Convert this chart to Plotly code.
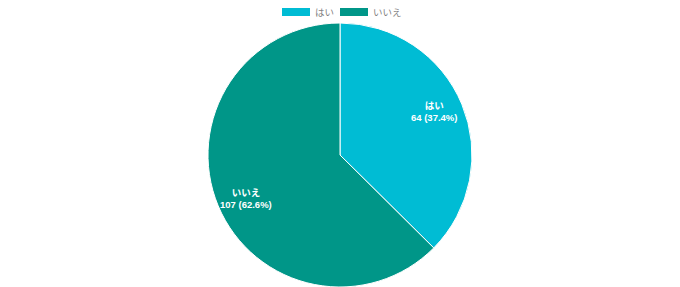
import math
import plotly.graph_objects as go

labels = ["はい", "いいえ"]
values = [64, 107]
colors = ["#00BCD4", "#009688"]

W, H = 680, 287
MT = 23
R_PX = 132          # pie radius in pixels (plot area is 264 tall)
LABEL_R = 103.5     # label distance from centre, pixels
LABEL_ROT = -2.4    # small angular offset of labels, degrees

fig = go.Figure()
fig.add_trace(go.Pie(
    labels=labels,
    values=values,
    sort=False,
    direction="clockwise",
    rotation=0,
    marker=dict(colors=colors, line=dict(color="#ffffff", width=1)),
    textinfo="none",
    hoverinfo="label+value+percent",
    showlegend=False,
))

shapes = []
annotations = []

# Slice labels placed along each slice's mid-angle
total = sum(values)
cum = 0
for lab, v in zip(labels, values):
    mid = (cum + v / 2) / total * 2 * math.pi + math.radians(LABEL_ROT)
    cum += v
    pct = v / total * 100
    annotations.append(dict(
        x=0.5, y=0.5, xref="paper", yref="paper",
        xshift=LABEL_R * math.sin(mid),
        yshift=LABEL_R * math.cos(mid),
        text=f"<b>{lab}<br>{v} ({pct:.1f}%)</b>",
        showarrow=False, xanchor="center", yanchor="middle", align="center",
        font=dict(size=9.5, color="#ffffff",
                  family="Liberation Sans, Noto Sans CJK JP, sans-serif"),
    ))

# Legend drawn as boxes + text across the top
box_x = [282, 340]
text_x = [313, 371]
ph = H - MT
for i, lab in enumerate(labels):
    shapes.append(dict(
        type="rect", xref="paper", yref="paper",
        x0=box_x[i] / W, x1=(box_x[i] + 28) / W,
        y0=(H - 16) / ph, y1=(H - 8) / ph,
        fillcolor=colors[i], line=dict(width=0),
    ))
    annotations.append(dict(
        x=text_x[i] / W, y=(H - 12) / ph, xref="paper", yref="paper",
        text=lab, showarrow=False, xanchor="left", yanchor="middle",
        font=dict(size=9.5, color="#808080", family="Noto Sans CJK JP, sans-serif"),
    ))

fig.update_layout(
    width=W, height=H,
    margin=dict(l=0, r=0, t=MT, b=0),
    paper_bgcolor="#ffffff",
    plot_bgcolor="#ffffff",
    shapes=shapes,
    annotations=annotations,
)

fig.write_html("out.html")
